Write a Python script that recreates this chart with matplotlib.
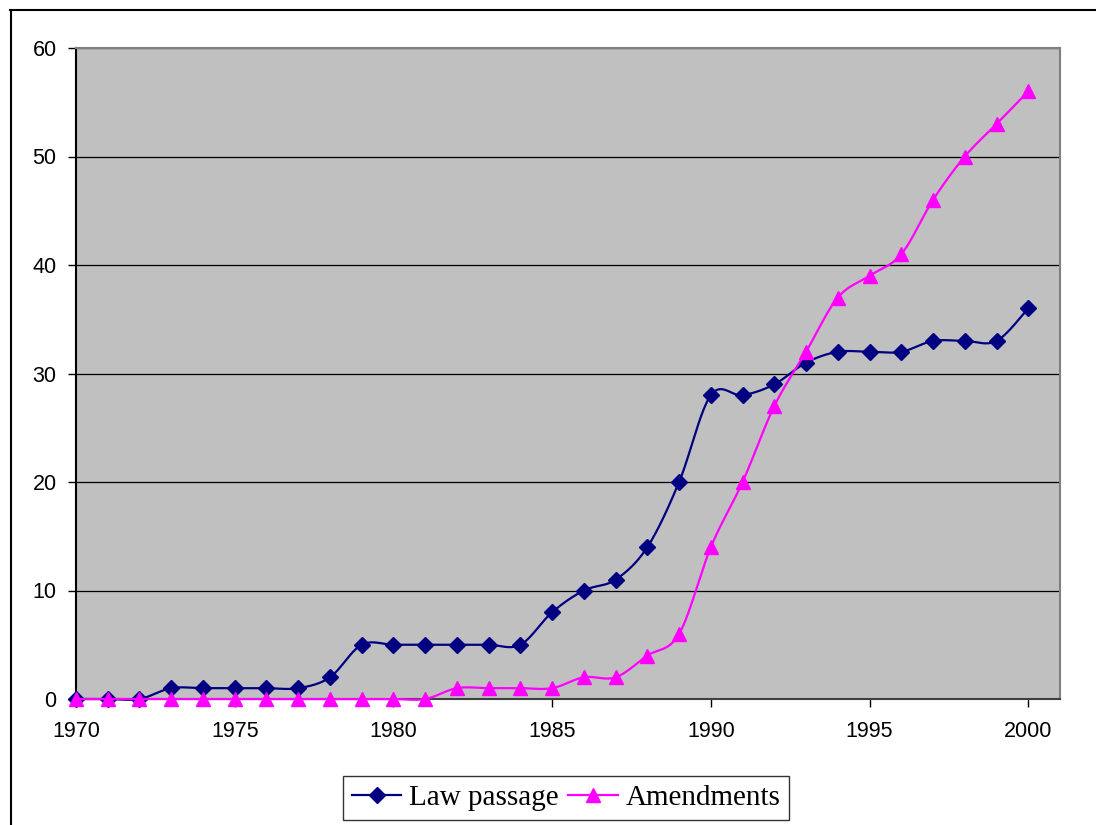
import numpy as np
import matplotlib
matplotlib.use('Agg')
import matplotlib.pyplot as plt
from matplotlib.lines import Line2D

# Data
years = list(range(1970, 2001))
law_passage = [0, 0, 0, 1, 1, 1, 1, 1, 2, 5,
               5, 5, 5, 5, 5, 8, 10, 11, 14, 20,
               28, 28, 29, 31, 32, 32, 32, 33, 33, 33, 36]
amendments = [0, 0, 0, 0, 0, 0, 0, 0, 0, 0,
              0, 0, 1, 1, 1, 1, 2, 2, 4, 6,
              14, 20, 27, 32, 37, 39, 41, 46, 50, 53, 56]

LAW_COLOR = '#000080'
AMD_COLOR = '#FF00FF'


def smooth(xs, ys, n=24):
    # Excel-like smoothed line: cubic Bezier through the points
    p = np.column_stack([xs, ys]).astype(float)
    out = []
    for i in range(len(p) - 1):
        p0 = p[i - 1] if i > 0 else p[i]
        p1 = p[i]
        p2 = p[i + 1]
        p3 = p[i + 2] if i + 2 < len(p) else p[i + 1]
        c1 = p1 + (p2 - p0) / 6.0
        c2 = p2 - (p3 - p1) / 6.0
        t = np.linspace(0, 1, n)[:, None]
        seg = ((1 - t) ** 3) * p1 + 3 * ((1 - t) ** 2) * t * c1 + 3 * (1 - t) * t ** 2 * c2 + t ** 3 * p2
        out.append(seg if i == 0 else seg[1:])
    out = np.vstack(out)
    return out[:, 0], out[:, 1]


fig = plt.figure(figsize=(10.96, 8.25), dpi=100)
ax = fig.add_axes([76 / 1096, 1 - 699 / 825, (1060 - 76) / 1096, (699 - 48) / 825])
ax.set_facecolor('#C0C0C0')

# Outer chart border (only top and left edges visible)
fig.add_artist(Line2D([10 / 1096, 1.0], [1 - 9.5 / 825, 1 - 9.5 / 825], color='black', lw=1.5))
fig.add_artist(Line2D([10.5 / 1096, 10.5 / 1096], [0, 1 - 9.5 / 825], color='black', lw=1.5))

for ys, col, mk, ms, z in [(law_passage, LAW_COLOR, 'D', 8.5, 3),
                           (amendments, AMD_COLOR, '^', 10, 4)]:
    sx, sy = smooth(years, ys)
    ax.plot(sx, sy, color=col, lw=1.6, zorder=z, clip_on=False)
    ax.plot(years, ys, linestyle='none', marker=mk, markersize=ms,
            color=col, zorder=z + 0.5, clip_on=False)

ax.set_xlim(1970, 2001)
ax.set_ylim(0, 60)
ax.set_yticks(range(0, 61, 10))
ax.set_xticks(range(1970, 2001, 5))
ax.yaxis.grid(True, color='black', lw=0.9)
ax.set_axisbelow(True)

ax.tick_params(axis='y', direction='out', length=6, width=1, pad=8, labelsize=15.5)
ax.tick_params(axis='x', direction='out', length=6, width=1, pad=10, labelsize=15.5)
for lab in ax.get_xticklabels() + ax.get_yticklabels():
    lab.set_family('Liberation Sans')

ax.spines['left'].set_color('black')
ax.spines['bottom'].set_color('#404040')
ax.spines['top'].set_color('#808080')
ax.spines['right'].set_color('#808080')
for s in ax.spines.values():
    s.set_linewidth(1.5)

handles = [Line2D([], [], color=LAW_COLOR, lw=1.6, marker='D', markersize=8.5),
           Line2D([], [], color=AMD_COLOR, lw=1.6, marker='^', markersize=10)]
leg = fig.legend(handles, ['Law passage', 'Amendments'], loc='center',
                 bbox_to_anchor=(566 / 1096, 1 - 798 / 825), ncol=2,
                 prop={'family': 'Liberation Serif', 'size': 21},
                 frameon=True, fancybox=False, edgecolor='black',
                 handlelength=1.7, handletextpad=0.25, columnspacing=0.35,
                 borderpad=0.3, borderaxespad=0)
leg.get_frame().set_linewidth(1.0)

fig.savefig('out.png', dpi=100)
